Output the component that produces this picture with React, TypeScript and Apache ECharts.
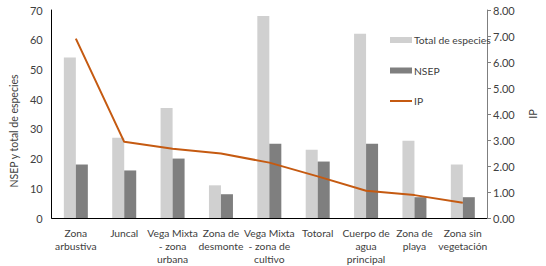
import React, { useEffect, useRef } from "react";
import * as echarts from "echarts";

const categories = [
  "Zona\narbustiva",
  "Juncal",
  "Vega Mixta\n- zona\nurbana",
  "Zona de\ndesmonte",
  "Vega Mixta\n- zona de\ncultivo",
  "Totoral",
  "Cuerpo de\nagua\nprincipal",
  "Zona de\nplaya",
  "Zona sin\nvegetación",
];
const totalEspecies = [54, 27, 37, 11, 68, 23, 62, 26, 18];
const nsep = [18, 16, 20, 8, 25, 19, 25, 7, 7];
const ip = [6.9, 2.93, 2.66, 2.48, 2.13, 1.6, 1.05, 0.88, 0.59];

const FONT = "Lato";
const TXT = "#404040";
const FS = 11;
const FS_CAT = 10.3;

export default function App() {
  const ref = useRef<HTMLDivElement>(null);
  useEffect(() => {
    if (!ref.current) return;
    const chart = echarts.init(ref.current, undefined, { renderer: "svg" });
    chart.setOption({
      animation: false,
      backgroundColor: "#ffffff",
      textStyle: { fontFamily: FONT, color: TXT },
      grid: { left: 37, right: 49, top: 10, bottom: 48, containLabel: false },
      legend: {
        orient: "vertical",
        left: 390,
        top: 35,
        padding: 0,
        itemWidth: 22,
        itemHeight: 6,
        itemGap: 20.5,
        textStyle: { fontFamily: FONT, fontSize: FS_CAT, color: TXT, padding: [0, 0, 0, -3] },
        data: [
          { name: "Total de especies", icon: "rect" },
          { name: "NSEP", icon: "rect" },
          { name: "IP", icon: "path://M0,0L22,0L22,2L0,2Z" },
        ],
      },
      xAxis: {
        type: "category",
        data: categories,
        axisLine: { show: true, lineStyle: { color: "#000000", width: 1 } },
        axisTick: { show: false },
        axisLabel: {
          interval: 0,
          fontFamily: FONT,
          fontSize: FS_CAT,
          color: TXT,
          lineHeight: 13,
          margin: 8,
        },
      },
      yAxis: [
        {
          type: "value",
          min: 0,
          max: 70,
          interval: 10,
          name: "NSEP y total de especies",
          nameLocation: "middle",
          nameRotate: 90,
          nameGap: 24,
          nameTextStyle: {
            fontFamily: FONT,
            fontSize: 10.5,
            color: TXT,
            padding: [0, 34, 0, 0],
          },
          axisLine: { show: true, lineStyle: { color: "#000000", width: 1 } },
          axisTick: { show: false },
          splitLine: { show: false },
          axisLabel: { fontFamily: FONT, fontSize: FS, color: TXT, margin: 9 },
        },
        {
          type: "value",
          min: 0,
          max: 8,
          interval: 1,
          position: "right",
          name: "IP",
          nameLocation: "middle",
          nameRotate: 90,
          nameGap: 40,
          nameTextStyle: { fontFamily: FONT, fontSize: FS, color: TXT },
          axisLine: { show: true, lineStyle: { color: "#7f7f7f", width: 1 } },
          axisTick: { show: true, inside: false, length: 4, lineStyle: { color: "#7f7f7f" } },
          splitLine: { show: false },
          axisLabel: {
            fontFamily: FONT,
            fontSize: FS,
            color: TXT,
            margin: 6,
            formatter: (v: number) => v.toFixed(2),
          },
        },
      ],
      series: [
        {
          name: "Total de especies",
          type: "bar",
          yAxisIndex: 0,
          data: totalEspecies,
          barWidth: 12,
          barGap: "0%",
          itemStyle: { color: "#d0d0d0" },
        },
        {
          name: "NSEP",
          type: "bar",
          yAxisIndex: 0,
          data: nsep,
          barWidth: 12,
          barGap: "0%",
          itemStyle: { color: "#7f7f7f" },
        },
        {
          name: "IP",
          type: "line",
          yAxisIndex: 1,
          data: ip,
          symbol: "none",
          lineStyle: { color: "#c55a11", width: 2 },
          itemStyle: { color: "#c55a11" },
        },
      ],
    });
    return () => chart.dispose();
  }, []);
  return (
    <div
      ref={ref}
      style={{ position: "fixed", left: 0, top: 0, width: 546, height: 266 }}
    />
  );
}
